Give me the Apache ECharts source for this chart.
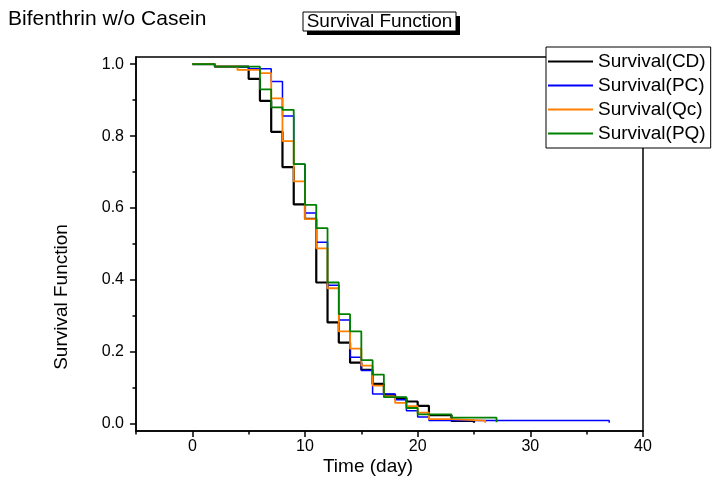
<!DOCTYPE html>
<html><head><meta charset="utf-8">
<script src="https://cdn.jsdelivr.net/npm/echarts@6/dist/echarts.min.js"></script>
<style>html,body{margin:0;padding:0;background:#fff}#c{width:714px;height:502px}</style>
</head><body><div id="c"></div>
<script>
const seriesNames = ['Survival(CD)','Survival(PC)','Survival(Qc)','Survival(PQ)'];
const seriesColors = ['#000000','#0000ff','#ff8000','#008000'];
const daysCD = [0,2,5,6,7,8,9,10,11,12,13,14,15,16,17,18,19,20,21,23,25,25];
const survCD = [1,0.993,0.959,0.898,0.812,0.714,0.61,0.57,0.393,0.282,0.226,0.170,0.150,0.111,0.081,0.072,0.062,0.050,0.024,0.008,0.008,0.003];
const daysPC = [0,2,5,7,8,9,10,11,12,13,14,15,16,18,19,20,21,37,37];
const survPC = [1,0.993,0.987,0.952,0.856,0.722,0.586,0.505,0.385,0.289,0.185,0.148,0.083,0.067,0.036,0.019,0.009,0.009,0.003];
const daysQc = [0,2,4,6,7,8,9,10,11,12,13,14,15,16,17,18,19,20,21,23,26,26];
const survQc = [1,0.993,0.984,0.975,0.905,0.786,0.674,0.569,0.488,0.377,0.257,0.209,0.162,0.106,0.076,0.058,0.049,0.031,0.013,0.009,0.009,0.003];
const daysPQ = [0,2,6,7,8,9,10,11,12,13,14,15,16,17,19,20,23,27,27];
const survPQ = [1,0.993,0.930,0.880,0.873,0.722,0.609,0.544,0.393,0.305,0.257,0.177,0.137,0.074,0.044,0.026,0.017,0.017,0.004];
const xMajorTicks = [0,10,20,30,40];
const xMinorTicks = [-5,5,15,25,35];
const yMajorTicks = [0,0.2,0.4,0.6,0.8,1.0];
const yMinorTicks = [0.1,0.3,0.5,0.7,0.9];
const chartTitle = 'Survival Function';
const sideTitle = 'Bifenthrin w/o Casein';
const xTitle = 'Time (day)';
const yTitle = 'Survival Function';

const FF = '"Liberation Sans", Arial, sans-serif';
const allDays = [daysCD, daysPC, daysQc, daysPQ];
const allSurv = [survCD, survPC, survQc, survPQ];
const widths = [2.2, 1.5, 1.8, 1.8];

const chart = echarts.init(document.getElementById('c'), null, {renderer:'canvas'});
const axisLineStyle = {color:'#000', width:1.5};
const option = {
  animation:false,
  backgroundColor:'#fff',
  grid:{left:136, top:57, width:507, height:374, show:true, borderColor:'#000', borderWidth:1.5, backgroundColor:'transparent'},
  xAxis:[
    {type:'value', min:-5, max:40, position:'bottom',
     axisLine:{show:true, onZero:false, lineStyle:axisLineStyle},
     axisTick:{show:true, length:6, customValues:xMajorTicks, lineStyle:axisLineStyle},
     axisLabel:{customValues:xMajorTicks, fontSize:16, color:'#000', fontFamily:FF, margin:8},
     splitLine:{show:false}},
    {type:'value', min:-5, max:40, position:'bottom',
     axisLine:{show:false, onZero:false},
     axisTick:{show:true, length:3.5, customValues:xMinorTicks, lineStyle:axisLineStyle},
     axisLabel:{show:false}, splitLine:{show:false}}
  ],
  yAxis:[
    {type:'value', min:-0.02, max:1.02, position:'left',
     axisLine:{show:true, onZero:false, lineStyle:axisLineStyle},
     axisTick:{show:true, length:6, customValues:yMajorTicks, lineStyle:axisLineStyle},
     axisLabel:{customValues:yMajorTicks, fontSize:16, color:'#000', fontFamily:FF, margin:12,
       formatter:v=>v.toFixed(1)},
     splitLine:{show:false}},
    {type:'value', min:-0.02, max:1.02, position:'left',
     axisLine:{show:false, onZero:false},
     axisTick:{show:true, length:3.5, customValues:yMinorTicks, lineStyle:axisLineStyle},
     axisLabel:{show:false}, splitLine:{show:false}}
  ],
  legend:{orient:'vertical', left:546, top:47, padding:[5,5,5,2], itemGap:5, itemWidth:45, itemHeight:2,
    icon:'rect',
    borderColor:'#000', borderWidth:1, backgroundColor:'#fff',
    textStyle:{fontSize:19, color:'#000', fontFamily:FF}, data:seriesNames},
  series: seriesNames.map((n,i)=>({
    name:n, type:'line', step:'end', symbol:'none', xAxisIndex:0, yAxisIndex:0,
    lineStyle:{color:seriesColors[i], width:widths[i]}, itemStyle:{color:seriesColors[i]},
    data: allDays[i].map((d,j)=>[d, allSurv[i][j]])
  })),
  graphic:[
    {type:'text', x:8, y:19, style:{text:sideTitle, fill:'#000', fontSize:21, fontFamily:FF, align:'left', verticalAlign:'middle'}},
    {type:'rect', shape:{x:307, y:16, width:153, height:19}, style:{fill:'#000'}},
    {type:'rect', shape:{x:303, y:12, width:153, height:19}, style:{fill:'#fff', stroke:'#000', lineWidth:1}},
    {type:'text', x:379.5, y:22, style:{text:chartTitle, fill:'#000', fontSize:19, fontFamily:FF, align:'center', verticalAlign:'middle'}},
    {type:'text', x:368, y:467, style:{text:xTitle, fill:'#000', fontSize:19, fontFamily:FF, align:'center', verticalAlign:'middle'}},
    {type:'text', x:62, y:297, rotation:Math.PI/2, style:{text:yTitle, fill:'#000', fontSize:19, fontFamily:FF, align:'center', verticalAlign:'middle'}}
  ]
};
chart.setOption(option);
</script></body></html>
